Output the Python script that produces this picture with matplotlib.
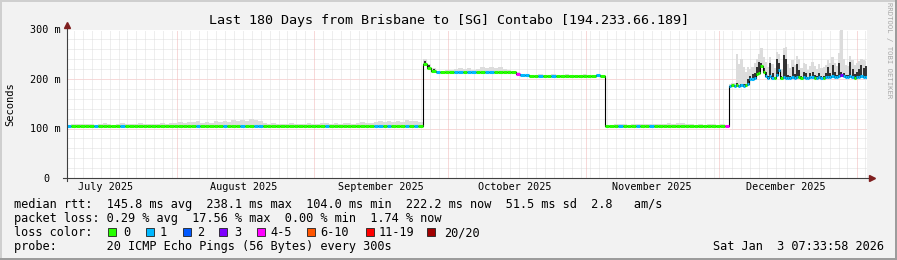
import numpy as np
import matplotlib
matplotlib.use('Agg')
import matplotlib.pyplot as plt
import matplotlib.dates as mdates
import matplotlib.transforms as mtransforms
from matplotlib.patches import Rectangle
from matplotlib.lines import Line2D
from datetime import datetime, timedelta

plt.rcParams['font.family'] = ['DejaVu Sans Mono', 'DejaVu Sans']

# ---- data -------------------------------------------------------------
end_time = datetime(2026, 1, 3, 7, 33, 58)
start_time = end_time - timedelta(days=180)

title = 'Last 180 Days from Brisbane to [SG] Contabo [194.233.66.189]'
month_names = ['July 2025', 'August 2025', 'September 2025', 'October 2025',
               'November 2025', 'December 2025']
month_mid = [datetime(2025, 7, 16), datetime(2025, 8, 16), datetime(2025, 9, 16),
             datetime(2025, 10, 16), datetime(2025, 11, 16), datetime(2025, 12, 16)]
month_start = [datetime(2025, 8, 1), datetime(2025, 9, 1), datetime(2025, 10, 1),
               datetime(2025, 11, 1), datetime(2025, 12, 1), datetime(2026, 1, 1)]
y_ticks = [0, 100, 200, 300]
y_labels = ['0', '100 m', '200 m', '300 m']

# daily samples, first 149 days (median rtt in ms)
median_a = [104.6, 104.5, 104.4, 104.5, 104.6, 104.5, 104.7, 104.5, 104.4, 104.5,
            104.5, 104.6, 104.8, 104.5, 104.4, 104.5, 104.6, 104.5, 104.5, 104.6,
            104.5, 104.4, 104.6, 104.7, 104.5, 104.6, 104.5, 104.5, 104.8, 104.9,
            104.6, 104.5, 104.7, 104.6, 104.5, 104.9, 104.6, 104.5, 104.6, 105.0,
            104.7, 104.8, 105.1, 105.0, 104.6, 104.5, 104.6, 104.5, 104.4, 104.5,
            104.5, 104.6, 104.5, 104.4, 104.5, 104.6, 104.5, 104.5, 104.8, 104.6,
            104.5, 104.6, 104.5, 104.4, 104.5, 104.6, 104.7, 104.5, 104.6, 104.9,
            105.0, 104.7, 104.9, 104.6, 104.5, 104.6, 104.8, 104.6, 104.9, 104.6,
            230.0, 222.0, 217.0, 214.0, 213.5, 213.8, 213.4, 214.0, 213.6, 213.9,
            213.7, 214.0, 213.5, 213.4, 213.8, 214.1, 213.6, 213.5, 213.7, 213.4,
            213.2, 210.5, 207.8, 207.3, 206.8, 206.6, 207.0, 206.5, 206.7, 207.0,
            206.6, 206.5, 206.8, 206.6, 206.5, 206.7, 206.6, 206.5, 206.8, 207.2,
            206.9, 104.8, 104.6, 104.5, 104.7, 104.5, 104.6, 104.5, 104.8, 104.6,
            104.5, 104.7, 104.6, 104.5, 104.6, 104.5, 104.4, 104.6, 104.5, 104.6,
            104.5, 104.6, 104.5, 104.4, 104.5, 104.6, 104.5, 104.5, 104.6]
smoke_a = [108, 109, 110, 109, 110, 109, 108, 110, 111, 109,
           108, 110, 111, 110, 109, 110, 111, 109, 110, 109,
           110, 111, 110, 112, 111, 113, 112, 114, 113, 115,
           112, 114, 111, 115, 113, 116, 114, 117, 115, 118,
           116, 119, 117, 115, 112, 110, 111, 110, 109, 110,
           111, 110, 109, 110, 111, 110, 109, 111, 112, 110,
           111, 110, 112, 111, 110, 111, 113, 112, 111, 114,
           115, 113, 116, 114, 115, 113, 117, 115, 116, 114,
           241, 230, 222, 217, 216, 218, 219, 221, 222, 220,
           223, 219, 221, 224, 222, 225, 223, 224, 221, 219,
           217, 214, 210, 209, 208, 209, 210, 208, 209, 210,
           209, 208, 210, 209, 208, 209, 210, 208, 209, 210,
           209, 108, 108, 109, 110, 109, 108, 109, 110, 109,
           109, 110, 109, 110, 109, 111, 110, 112, 111, 110,
           109, 108, 109, 108, 110, 109, 108, 109, 108]
loss_a = [1, 0, 0, 0, 0, 0, 1, 0, 0, 0,
          0, 0, 1, 0, 0, 0, 0, 0, 0, 0,
          0, 0, 0, 0, 0, 0, 0, 0, 0, 1,
          0, 0, 0, 0, 0, 1, 0, 0, 0, 1,
          0, 0, 1, 1, 0, 0, 0, 0, 0, 0,
          0, 0, 0, 0, 0, 0, 0, 0, 1, 0,
          0, 0, 0, 0, 0, 0, 0, 0, 0, 1,
          1, 0, 1, 0, 0, 0, 1, 0, 1, 0,
          0, 0, 0, 1, 0, 0, 0, 1, 1, 0,
          1, 1, 0, 0, 1, 1, 0, 0, 0, 0,
          0, 5, 1, 1, 0, 0, 1, 0, 0, 1,
          0, 0, 0, 0, 0, 0, 0, 0, 0, 1,
          0, 0, 0, 0, 1, 0, 0, 0, 1, 0,
          0, 1, 0, 0, 0, 0, 0, 0, 0, 0,
          0, 0, 0, 0, 0, 0, 0, 0, 4]
# dark smoke on the late-September jump
spike_day = [80, 81, 82]
spike_top = [237, 229, 221]

# half-day samples for December
median_b = [185, 187, 186, 188, 186, 187, 186, 188, 190, 201,
            200, 203, 210, 212, 226, 214, 207, 203, 206, 203,
            202, 208, 218, 202, 204, 203, 202, 203, 204, 203,
            205, 204, 202, 204, 203, 202, 204, 205, 203, 202,
            204, 203, 202, 204, 205, 204, 206, 205, 204, 207,
            209, 206, 205, 204, 206, 205, 203, 204, 205, 206,
            204, 205]
dark_b = [185, 187, 186, 191, 188, 190, 189, 190, 200, 206,
          210, 212, 225, 235, 233, 222, 215, 207, 232, 212,
          205, 240, 232, 206, 248, 240, 208, 206, 224, 210,
          230, 218, 206, 215, 212, 205, 212, 214, 208, 206,
          212, 206, 207, 212, 224, 212, 228, 214, 208, 232,
          215, 212, 209, 208, 235, 220, 210, 214, 220, 228,
          222, 226]
smoke_b = [190, 192, 192, 250, 230, 240, 225, 215, 225, 220,
           225, 232, 240, 250, 262, 245, 235, 225, 245, 230,
           222, 255, 250, 220, 262, 265, 230, 222, 238, 228,
           246, 240, 222, 232, 230, 218, 226, 234, 226, 220,
           230, 222, 224, 228, 238, 232, 245, 232, 226, 252,
           302, 240, 228, 226, 246, 238, 228, 232, 236, 240,
           238, 236]
loss_b = [1, 0, 1, 0, 1, 1, 1, 0, 1, 1,
          1, 1, 0, 0, 0, 0, 1, 1, 1, 1,
          0, 1, 1, 0, 1, 1, 1, 1, 1, 1,
          1, 0, 0, 1, 1, 1, 1, 1, 0, 1,
          1, 1, 0, 1, 1, 1, 1, 1, 1, 1,
          3, 1, 1, 1, 1, 1, 0, 1, 1, 1,
          1, 1]

loss_upper = [0, 1, 2, 3, 5, 10, 19, 20]
loss_names = ['0', '1', '2', '3', '4-5', '6-10', '11-19', '20/20']
loss_colors = ['#26ff00', '#00b8ff', '#0059ff', '#7e00ff', '#ff00ff',
               '#ff5500', '#ff0000', '#a10000']

stats_lines = [
    'median rtt:  145.8 ms avg  238.1 ms max  104.0 ms min  222.2 ms now  51.5 ms sd  2.8   am/s',
    'packet loss: 0.29 % avg  17.56 % max  0.00 % min  1.74 % now',
]
probe_line = 'probe:       20 ICMP Echo Pings (56 Bytes) every 300s'
stamp = 'Sat Jan  3 07:33:58 2026'

# ---- assemble ---------------------------------------------------------
t0 = mdates.date2num(start_time)
t_a = t0 + np.arange(len(median_a)) + 0.5
t_b = t0 + 149.25 + 0.5 * np.arange(len(median_b))
t = np.concatenate([t_a, t_b])
w = np.concatenate([np.full(len(t_a), 1.0), np.full(len(t_b), 0.5)])
median = np.concatenate([median_a, median_b]).astype(float)
smoke = np.concatenate([smoke_a, smoke_b]).astype(float)
dark_a = np.array(median_a, dtype=float)
dark_a[spike_day] = spike_top
dark = np.concatenate([dark_a, dark_b]).astype(float)
loss = np.concatenate([loss_a, loss_b])


def loss_color(n):
    for up, c in zip(loss_upper, loss_colors):
        if n <= up:
            return c
    return loss_colors[-1]


W, H = 897, 260


def fx(x):
    return x / W


def fy(y):
    return 1 - y / H


fig = plt.figure(figsize=(W / 100, H / 100), dpi=100, facecolor='#f2f2f2')
ax = fig.add_axes([fx(67), fy(178), 800 / W, 148.5 / H])
ax.set_facecolor('white')
ax.set_xlim(t0, mdates.date2num(end_time))
ax.set_ylim(0, 300)
for s in ax.spines.values():
    s.set_visible(False)
ax.set_xticks([])
ax.set_yticks([])

# grid
dot = (0, (1, 1))
minor_c, major_c = '#dedede', '#f0b4b4'
for v in range(20, 300, 20):
    if v % 100:
        ax.axhline(v, color=minor_c, lw=0.72, ls=dot, zorder=1)
for v in (100, 200, 300):
    ax.axhline(v, color=major_c, lw=0.72, ls=dot, zorder=1)
month_x = [mdates.date2num(m) for m in month_start]
g = t0 + 1.6
while g < mdates.date2num(end_time):
    if min(abs(g - m) for m in month_x) > 0.6:
        ax.axvline(g, color=minor_c, lw=0.72, ls=dot, zorder=1)
    g += 2
for m in month_x:
    ax.axvline(m, color=major_c, lw=0.72, ls=dot, zorder=1)

# smoke, median
ax.fill_between(t, median, smoke, step='mid', color='#dcdcdc', lw=0, zorder=2)
ax.vlines(t, median, dark, color='black', lw=1.1, zorder=3)
ax.plot(t, median, drawstyle='steps-mid', color='black', lw=0.8, zorder=3)
ax.hlines(median, t - w / 2, t + w / 2, colors=[loss_color(n) for n in loss],
          lw=2.2, zorder=4, capstyle='butt')

# axes with arrows
ax.plot([-4 / 800, 1 + 3 / 800], [0, 0], transform=ax.transAxes, color='#404040',
        lw=0.8, clip_on=False, zorder=5)
ax.plot([0, 0], [-3 / 148.5, 1 + 3 / 148.5], transform=ax.transAxes, color='#404040',
        lw=0.8, clip_on=False, zorder=5)
ax.plot([1 + 5 / 800], [0], marker='>', ms=4, color='#7f1f1f', transform=ax.transAxes,
        clip_on=False, zorder=6)
ax.plot([0], [1 + 5 / 148.5], marker='^', ms=4, color='#7f1f1f', transform=ax.transAxes,
        clip_on=False, zorder=6)

# tick labels
ytr = mtransforms.offset_copy(mtransforms.blended_transform_factory(fig.transFigure, ax.transData),
                              fig=fig, x=0, y=-3.7 * 0.72, units='points')
for v, lab in zip(y_ticks, y_labels):
    xr = 49 if lab == '0' else 61
    ax.text(fx(xr), v, lab, transform=ytr, ha='right', va='baseline', fontsize=7.3)
xtr = mtransforms.blended_transform_factory(ax.transData, fig.transFigure)
for d, lab in zip(month_mid, month_names):
    ax.text(mdates.date2num(d), fy(190.5), lab, transform=xtr, ha='center',
            va='baseline', fontsize=7.3)

fig.text(fx(10), fy(104), 'Seconds', rotation=90, ha='center', va='center', fontsize=7.5)
fig.text(0.5, fy(24.3), title, ha='center', va='baseline', fontsize=9.6)
fig.text(fx(889), fy(50), 'RRDTOOL / TOBI OETIKER', rotation=270, ha='center',
         va='center', fontsize=5.2, color='#a8a8a8')

# legend block
x0 = 14.2
fig.text(fx(x0), fy(208.3), stats_lines[0], fontsize=8.54, va='baseline')
fig.text(fx(x0), fy(222.3), stats_lines[1], fontsize=8.54, va='baseline')
fig.text(fx(x0), fy(236.3), 'loss color:', fontsize=8.54, va='baseline')
fig.text(fx(x0), fy(250.0), probe_line, fontsize=8.54, va='baseline')
fig.text(fx(712.5), fy(250.0), stamp, fontsize=8.54, va='baseline')
box_x = [108.3, 145.7, 182.7, 219.3, 256.7, 306.7, 366.0, 426.7]
lab_x = [123.0, 159.7, 197.3, 234.0, 270.7, 320.7, 379.0, 444.0]
for bx, lx, c, name in zip(box_x, lab_x, loss_colors, loss_names):
    fig.add_artist(Rectangle((fx(bx), fy(236)), 8 / W, 8 / H, transform=fig.transFigure,
                             facecolor=c, edgecolor='#202020', lw=0.6))
    fig.text(fx(lx), fy(236.3), name, fontsize=8.54, va='baseline')

# frame shading
fig.add_artist(Line2D([0, 1], [fy(1), fy(1)], transform=fig.transFigure, color='#cfcfcf', lw=1.44))
fig.add_artist(Line2D([fx(1), fx(1)], [0, 1], transform=fig.transFigure, color='#cfcfcf', lw=1.44))
fig.add_artist(Line2D([0, 1], [fy(259), fy(259)], transform=fig.transFigure, color='#9c9c9c', lw=1.44))
fig.add_artist(Line2D([fx(896), fx(896)], [0, 1], transform=fig.transFigure, color='#9c9c9c', lw=1.44))

fig.savefig('out.png', dpi=100, facecolor=fig.get_facecolor())
